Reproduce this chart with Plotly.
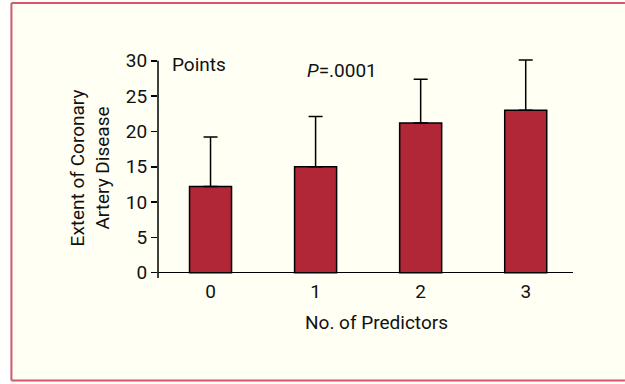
import plotly.graph_objects as go

categories = ["0", "1", "2", "3"]
means = [12.2, 15.0, 21.2, 23.0]
errors = [7.0, 7.1, 6.2, 7.1]
y_ticks = [0, 5, 10, 15, 20, 25, 30]

FONT = "Liberation Sans Narrow, Roboto, Liberation Sans, sans-serif"
BAR = "#B22737"
CREAM = "#FFFFF4"
BORDER = "#D4586B"

W, H = 625, 384
L, R, T, B = 157.7, 52, 57.9, 106
pw = W - L - R
ph = H - T - B

def px(x):
    return (x - L) / pw

def py(y):
    return (H - B - y) / ph

fig = go.Figure()
fig.add_trace(go.Bar(
    x=list(range(len(categories))),
    y=means,
    width=0.4,
    marker=dict(color=BAR, line=dict(color="black", width=1.5)),
    error_y=dict(type="data", symmetric=False, array=errors,
                 arrayminus=[0] * len(errors), color="black",
                 thickness=1.5, width=7),
    hoverinfo="skip",
))

border_line = dict(color=BORDER, width=2)
fig.update_layout(
    width=W, height=H,
    margin=dict(l=L, r=R, t=T, b=B, pad=0),
    paper_bgcolor=CREAM,
    plot_bgcolor="rgba(0,0,0,0)",
    showlegend=False,
    font=dict(family=FONT, color="#111", size=19),
    xaxis=dict(range=[-0.5, 3.45], tickvals=list(range(len(categories))),
               ticktext=categories, showline=False, showgrid=False,
               zeroline=False, ticks="", tickfont=dict(size=19),
               fixedrange=True),
    yaxis=dict(range=[-0.75, 30.4], tickvals=y_ticks,
               ticktext=[str(v) for v in y_ticks],
               showline=False,
               ticks="outside", ticklen=6, tickwidth=1.5, tickcolor="black",
               showgrid=False, zeroline=True, zerolinecolor="black",
               zerolinewidth=1.5, tickfont=dict(size=19), fixedrange=True),
    shapes=[
        dict(type="rect", xref="paper", yref="paper",
             x0=px(0), x1=px(10), y0=py(384), y1=py(0),
             fillcolor="white", line=dict(width=0), layer="below"),
        dict(type="rect", xref="paper", yref="paper",
             x0=px(0), x1=px(625), y0=py(384), y1=py(381.5),
             fillcolor="white", line=dict(width=0), layer="below"),
        dict(type="rect", xref="paper", yref="paper",
             x0=px(0), x1=px(625), y0=py(2), y1=py(0),
             fillcolor="white", line=dict(width=0), layer="below"),
        dict(type="line", xref="paper", yref="paper", x0=px(11), x1=px(11),
             y0=py(380.5), y1=py(3), line=border_line, layer="below"),
        dict(type="line", xref="paper", yref="paper", x0=px(11), x1=px(625),
             y0=py(3), y1=py(3), line=border_line, layer="below"),
        dict(type="line", xref="paper", yref="paper", x0=px(11), x1=px(625),
             y0=py(380.5), y1=py(380.5), line=border_line, layer="below"),
        dict(type="line", xref="paper", yref="y", x0=0, x1=0,
             y0=-0.75, y1=30, line=dict(color="black", width=1.5)),
    ],
    annotations=[
        dict(text="Points", xref="paper", yref="paper", x=px(170), y=py(64.4),
             xanchor="left", yanchor="middle", showarrow=False,
             font=dict(size=19)),
        dict(text="<i>P</i>=.0001", xref="paper", yref="paper", x=px(342),
             y=py(70.4), xanchor="center", yanchor="middle", showarrow=False,
             font=dict(size=19)),
        dict(text="No. of Predictors", xref="paper", yref="paper",
             x=px(376.5), y=py(322.4), xanchor="center", yanchor="middle",
             showarrow=False, font=dict(size=19)),
        dict(text="Extent of Coronary<br>Artery Disease", xref="paper",
             yref="paper", x=px(89.5), y=py(167.5), xanchor="center",
             yanchor="middle", showarrow=False, textangle=-90,
             font=dict(size=19)),
    ],
)

fig.write_html(
    "out.html",
    config={"displayModeBar": False, "staticPlot": True},
    post_script="document.body.style.margin='0px';document.body.style.overflow='hidden';",
)
